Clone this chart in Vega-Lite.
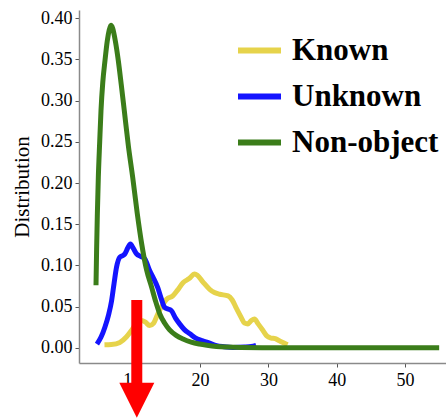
{
  "$schema": "https://vega.github.io/schema/vega-lite/v6.json",
  "autosize": {"type": "none"},
  "padding": {"left": 79, "top": 10, "right": 0, "bottom": 55},
  "width": 367,
  "height": 353,
  "background": "white",
  "config": {
    "view": {"stroke": null},
    "font": "Liberation Serif"
  },
  "datasets": {
    "curves": [
      {"series": "Known", "x": 6.0, "y": 0.0036},
      {"series": "Known", "x": 7.0, "y": 0.004},
      {"series": "Known", "x": 8.25, "y": 0.0065},
      {"series": "Known", "x": 9.2, "y": 0.013},
      {"series": "Known", "x": 9.95, "y": 0.021},
      {"series": "Known", "x": 10.7, "y": 0.03},
      {"series": "Known", "x": 11.4, "y": 0.033},
      {"series": "Known", "x": 12.0, "y": 0.031},
      {"series": "Known", "x": 12.6, "y": 0.027},
      {"series": "Known", "x": 13.2, "y": 0.03},
      {"series": "Known", "x": 13.8, "y": 0.041},
      {"series": "Known", "x": 14.5, "y": 0.052},
      {"series": "Known", "x": 15.1, "y": 0.059},
      {"series": "Known", "x": 16.0, "y": 0.063},
      {"series": "Known", "x": 16.7, "y": 0.07},
      {"series": "Known", "x": 17.5, "y": 0.079},
      {"series": "Known", "x": 18.4, "y": 0.084},
      {"series": "Known", "x": 19.2, "y": 0.0895},
      {"series": "Known", "x": 19.6, "y": 0.088},
      {"series": "Known", "x": 20.4, "y": 0.08},
      {"series": "Known", "x": 21.4, "y": 0.071},
      {"series": "Known", "x": 22.1, "y": 0.067},
      {"series": "Known", "x": 22.85, "y": 0.065},
      {"series": "Known", "x": 24.1, "y": 0.063},
      {"series": "Known", "x": 24.7, "y": 0.058},
      {"series": "Known", "x": 25.3, "y": 0.048},
      {"series": "Known", "x": 26.0, "y": 0.037},
      {"series": "Known", "x": 26.5, "y": 0.03},
      {"series": "Known", "x": 27.0, "y": 0.029},
      {"series": "Known", "x": 27.5, "y": 0.033},
      {"series": "Known", "x": 27.95, "y": 0.035},
      {"series": "Known", "x": 28.5, "y": 0.029},
      {"series": "Known", "x": 29.2, "y": 0.021},
      {"series": "Known", "x": 29.8, "y": 0.014},
      {"series": "Known", "x": 30.4, "y": 0.0118},
      {"series": "Known", "x": 31.0, "y": 0.011},
      {"series": "Known", "x": 31.6, "y": 0.0085},
      {"series": "Known", "x": 32.2, "y": 0.006},
      {"series": "Known", "x": 32.8, "y": 0.0036},
      {"series": "Unknown", "x": 4.9, "y": 0.0045},
      {"series": "Unknown", "x": 5.5, "y": 0.013},
      {"series": "Unknown", "x": 6.06, "y": 0.025},
      {"series": "Unknown", "x": 6.6, "y": 0.04},
      {"series": "Unknown", "x": 7.04, "y": 0.057},
      {"series": "Unknown", "x": 7.4, "y": 0.078},
      {"series": "Unknown", "x": 7.77, "y": 0.098},
      {"series": "Unknown", "x": 8.25, "y": 0.11},
      {"series": "Unknown", "x": 8.7, "y": 0.112},
      {"series": "Unknown", "x": 8.98, "y": 0.114},
      {"series": "Unknown", "x": 9.4, "y": 0.121},
      {"series": "Unknown", "x": 9.8, "y": 0.126},
      {"series": "Unknown", "x": 10.2, "y": 0.121},
      {"series": "Unknown", "x": 10.7, "y": 0.114},
      {"series": "Unknown", "x": 11.3, "y": 0.111},
      {"series": "Unknown", "x": 11.9, "y": 0.108},
      {"series": "Unknown", "x": 12.6, "y": 0.094},
      {"series": "Unknown", "x": 13.2, "y": 0.084},
      {"series": "Unknown", "x": 13.8, "y": 0.073},
      {"series": "Unknown", "x": 14.3, "y": 0.06},
      {"series": "Unknown", "x": 14.8, "y": 0.049},
      {"series": "Unknown", "x": 15.3, "y": 0.047},
      {"series": "Unknown", "x": 15.8, "y": 0.045},
      {"series": "Unknown", "x": 16.4, "y": 0.036},
      {"series": "Unknown", "x": 17.0, "y": 0.029},
      {"series": "Unknown", "x": 17.7, "y": 0.022},
      {"series": "Unknown", "x": 18.5, "y": 0.017},
      {"series": "Unknown", "x": 19.3, "y": 0.012},
      {"series": "Unknown", "x": 20.4, "y": 0.0085},
      {"series": "Unknown", "x": 21.3, "y": 0.006},
      {"series": "Unknown", "x": 22.4, "y": 0.0025},
      {"series": "Unknown", "x": 23.5, "y": 0.0012},
      {"series": "Unknown", "x": 24.8, "y": 0.0004},
      {"series": "Unknown", "x": 26.5, "y": 0.0008},
      {"series": "Unknown", "x": 27.5, "y": 0.0015},
      {"series": "Unknown", "x": 28.2, "y": 0.003},
      {"series": "Non-object", "x": 4.76, "y": 0.076},
      {"series": "Non-object", "x": 4.85, "y": 0.12},
      {"series": "Non-object", "x": 4.95, "y": 0.16},
      {"series": "Non-object", "x": 5.1, "y": 0.207},
      {"series": "Non-object", "x": 5.3, "y": 0.25},
      {"series": "Non-object", "x": 5.49, "y": 0.288},
      {"series": "Non-object", "x": 5.75, "y": 0.322},
      {"series": "Non-object", "x": 6.08, "y": 0.349},
      {"series": "Non-object", "x": 6.4, "y": 0.372},
      {"series": "Non-object", "x": 6.7, "y": 0.386},
      {"series": "Non-object", "x": 6.95, "y": 0.3916},
      {"series": "Non-object", "x": 7.2, "y": 0.388},
      {"series": "Non-object", "x": 7.6, "y": 0.372},
      {"series": "Non-object", "x": 8.02, "y": 0.349},
      {"series": "Non-object", "x": 8.45, "y": 0.32},
      {"series": "Non-object", "x": 8.9, "y": 0.288},
      {"series": "Non-object", "x": 9.5, "y": 0.245},
      {"series": "Non-object", "x": 10.13, "y": 0.207},
      {"series": "Non-object", "x": 10.8, "y": 0.163},
      {"series": "Non-object", "x": 11.45, "y": 0.126},
      {"series": "Non-object", "x": 12.15, "y": 0.095},
      {"series": "Non-object", "x": 12.9, "y": 0.0736},
      {"series": "Non-object", "x": 13.5, "y": 0.056},
      {"series": "Non-object", "x": 14.1, "y": 0.041},
      {"series": "Non-object", "x": 14.8, "y": 0.03},
      {"series": "Non-object", "x": 15.5, "y": 0.022},
      {"series": "Non-object", "x": 16.5, "y": 0.015},
      {"series": "Non-object", "x": 17.5, "y": 0.0106},
      {"series": "Non-object", "x": 18.7, "y": 0.0068},
      {"series": "Non-object", "x": 19.9, "y": 0.0045},
      {"series": "Non-object", "x": 21.0, "y": 0.003},
      {"series": "Non-object", "x": 22.4, "y": 0.0016},
      {"series": "Non-object", "x": 24.0, "y": 0.0008},
      {"series": "Non-object", "x": 26.0, "y": 0.0003},
      {"series": "Non-object", "x": 30.0, "y": 0.0001},
      {"series": "Non-object", "x": 35.0, "y": 0.0},
      {"series": "Non-object", "x": 40.0, "y": 0.0},
      {"series": "Non-object", "x": 45.0, "y": 0.0},
      {"series": "Non-object", "x": 50.0, "y": 0.0},
      {"series": "Non-object", "x": 55.0, "y": 0.0}
    ],
    "arrow": [
      {"x": 10.73, "y_top": 0.058, "y_bottom": -0.0431, "y_head": -0.0637}
    ]
  },
  "layer": [
    {
      "data": {"name": "curves"},
      "mark": {"type": "line", "strokeWidth": 5, "interpolate": "monotone", "strokeCap": "butt"},
      "encoding": {
        "x": {
          "field": "x", "type": "quantitative",
          "scale": {"domain": [2.27, 56.0], "nice": false, "zero": false},
          "axis": {
            "title": null, "values": [10, 20, 30, 40, 50],
            "labelFont": "Liberation Serif", "labelFontSize": 18, "labelColor": "black",
            "domainColor": "#8a8a8a", "domainWidth": 1.5, "tickColor": "#555", "tickSize": 4,
            "labelPadding": 4, "grid": false
          }
        },
        "y": {
          "field": "y", "type": "quantitative",
          "scale": {"domain": [-0.0185, 0.4101], "nice": false, "zero": false},
          "axis": {
            "title": "Distribution", "values": [0, 0.05, 0.1, 0.15, 0.2, 0.25, 0.3, 0.35, 0.4],
            "format": ".2f",
            "labelFont": "Liberation Serif", "labelFontSize": 18, "labelColor": "black",
            "titleFont": "Liberation Serif", "titleFontSize": 21, "titleFontWeight": "normal", "titleColor": "black",
            "titlePadding": 8,
            "domainColor": "#8a8a8a", "domainWidth": 1.5, "tickColor": "#555", "tickSize": 4,
            "labelPadding": 3, "grid": false
          }
        },
        "color": {
          "field": "series", "type": "nominal",
          "scale": {"domain": ["Known", "Unknown", "Non-object"], "range": ["#e6d34b", "#1414ff", "#3b7d1a"]},
          "legend": {
            "title": null, "orient": "none", "legendX": 156, "legendY": 16,
            "symbolType": "stroke", "symbolSize": 1849, "symbolStrokeWidth": 6,
            "labelFont": "Liberation Serif", "labelFontSize": 31, "labelFontWeight": "bold", "labelColor": "black",
            "labelOffset": 8, "rowPadding": 6, "padding": 0
          }
        },
        "order": {"field": "x", "type": "quantitative"}
      }
    },
    {
      "mark": {"type": "rule", "color": "#222", "strokeWidth": 2},
      "encoding": {"y": {"datum": 0.4101}}
    },
    {
      "data": {"name": "arrow"},
      "mark": {"type": "rule", "color": "#ff0000", "strokeWidth": 11, "strokeCap": "butt"},
      "encoding": {
        "x": {"field": "x", "type": "quantitative"},
        "y": {"field": "y_top", "type": "quantitative"},
        "y2": {"field": "y_bottom"}
      }
    },
    {
      "data": {"name": "arrow"},
      "mark": {"type": "point", "shape": "M-1,-1L1,-1L0,1Z", "filled": true, "color": "#ff0000", "opacity": 1, "size": 1225, "strokeWidth": 0},
      "encoding": {
        "x": {"field": "x", "type": "quantitative"},
        "y": {"field": "y_head", "type": "quantitative"}
      }
    }
  ]
}
